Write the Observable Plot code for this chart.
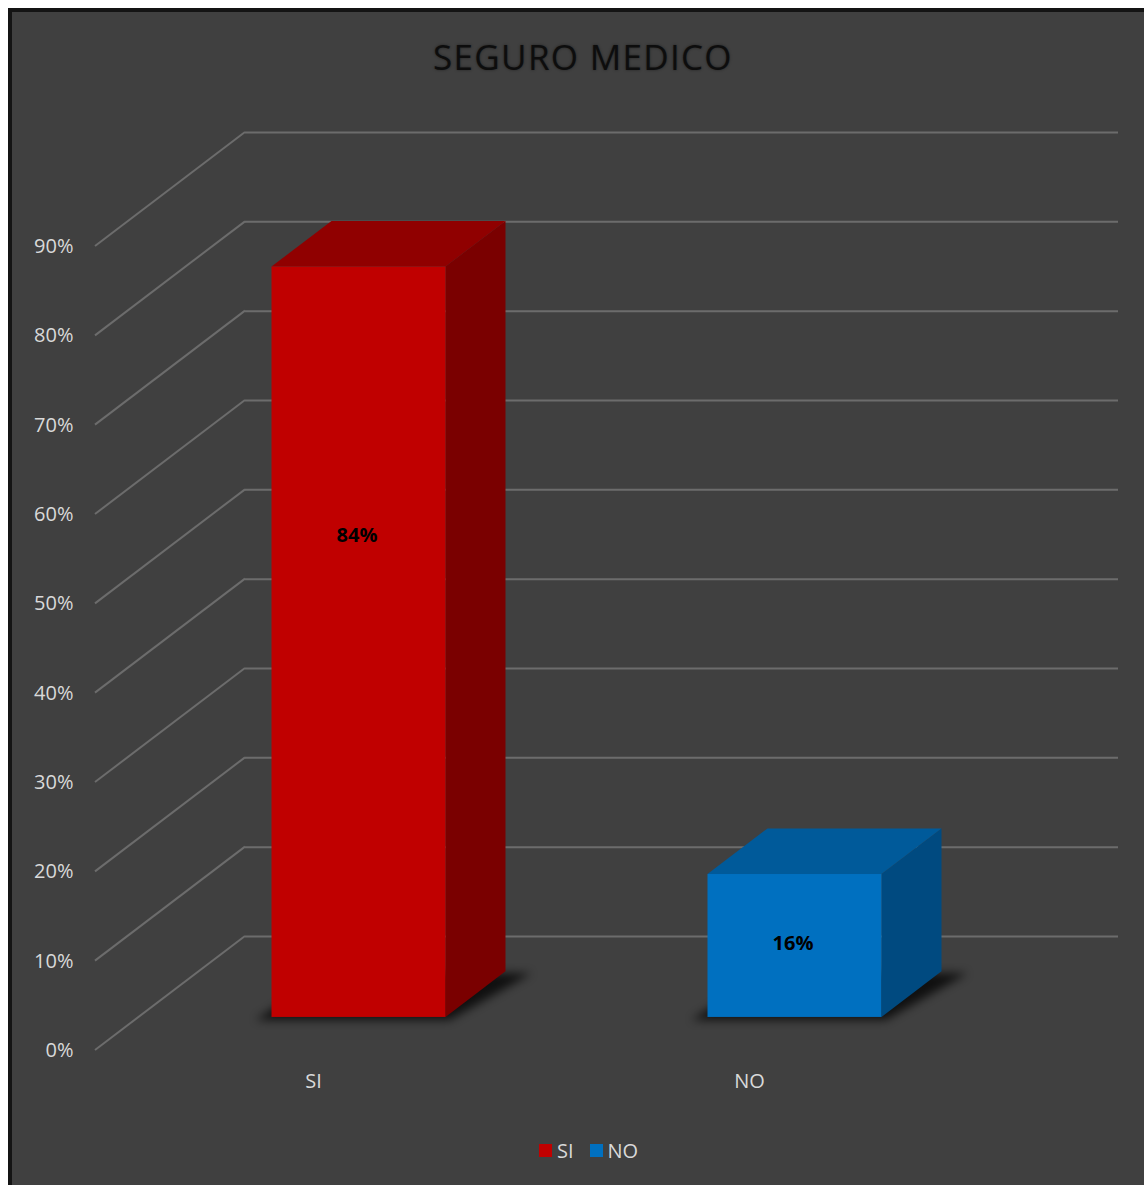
<!DOCTYPE html>
<html><head><meta charset="utf-8">
<script src="https://cdn.jsdelivr.net/npm/d3@7"></script>
<script src="https://cdn.jsdelivr.net/npm/@observablehq/plot@0.6"></script>
<style>
html,body{margin:0;padding:0;background:#fff;}
#frame{position:absolute;left:8px;top:8px;width:1136px;height:1177px;box-sizing:border-box;border-top:4px solid #141414;border-left:4px solid #141414;background:#404040;overflow:hidden;font-family:"Open Sans",sans-serif;}
#title{position:absolute;left:0;top:25px;width:1142px;height:40px;line-height:40px;text-align:center;font-size:35px;color:#0d0d0d;letter-spacing:1.3px;text-shadow:0 0 3px rgba(0,0,0,0.45);}
#chart{position:absolute;left:0;top:88px;}
#legend{position:absolute;left:527px;top:1126px;height:24px;display:flex;align-items:center;font-size:20px;color:#d9d9d9;}
#legend .sw{display:inline-block;width:13px;height:13px;margin-right:5px;}
#legend .item{display:flex;align-items:center;margin-right:16px;}
</style></head>
<body>
<div id="frame">
  <div id="title"></div>
  <div id="chart"></div>
  <div id="legend"></div>
</div>
<script>
// ---- data ----
const title = "SEGURO MEDICO";
const categories = ["SI", "NO"];
const values = [0.84, 0.16];
const yTicks = [0, 0.1, 0.2, 0.3, 0.4, 0.5, 0.6, 0.7, 0.8, 0.9];

// ---- style ----
const frontColors = ["#C00000", "#0070C0"];
const topColors = ["#900000", "#005A9A"];
const sideColors = ["#7A0000", "#004A80"];
const gridColor = "#6c6c6c";
const DX = 150, DY = -114;      // depth vector of the 3D floor
const D0 = 0.29, D1 = 0.69;     // bar front / back depth fraction
const SHIFT = 2;                // small horizontal nudge of the bars
const LABEL_POS = 0.672;        // relative height of the data label on the bar

const data = categories.map((c, i) => ({cat: c, value: values[i], i}));

document.getElementById("title").textContent = title;

const walls = (index, scales, vals, dims) => {
  const {y} = scales;
  const g = d3.create("svg:g");
  const x0 = dims.marginLeft;
  for (const v of yTicks) {
    g.append("line")
      .attr("x1", x0).attr("y1", y(v))
      .attr("x2", x0 + DX).attr("y2", y(v) + DY)
      .attr("stroke", gridColor).attr("stroke-width", 2);
  }
  return g.node();
};

const blocks = (index, scales, vals, dims) => {
  const {x, y} = scales;
  const g = d3.create("svg:g");
  const defs = g.append("defs");
  defs.append("filter").attr("id", "shblur").attr("x", "-50%").attr("y", "-50%").attr("width", "200%").attr("height", "200%")
    .append("feGaussianBlur").attr("stdDeviation", 5);
  const bw = x.bandwidth();
  const fx = DX * D0 + SHIFT, fy = DY * D0, bx = DX * D1 + SHIFT, by = DY * D1;
  for (const d of data) {
    const xl = x(d.cat), xr = xl + bw, yt = y(d.value), yb = y(0);
    const sh = [
      [xl + fx - 16, yb + fy + 3], [xr + fx + 4, yb + fy + 3],
      [xr + bx + 26, yb + by + 2], [xl + bx, yb + by]
    ];
    g.append("path").attr("d", "M" + sh.join("L") + "Z")
      .attr("fill", "#000").attr("opacity", 0.75).attr("filter", "url(#shblur)");
    const side = [[xr + fx, yt + fy], [xr + bx, yt + by], [xr + bx, yb + by], [xr + fx, yb + fy]];
    g.append("path").attr("d", "M" + side.join("L") + "Z").attr("fill", sideColors[d.i]);
    const top = [[xl + fx, yt + fy], [xr + fx, yt + fy], [xr + bx, yt + by], [xl + bx, yt + by]];
    g.append("path").attr("d", "M" + top.join("L") + "Z").attr("fill", topColors[d.i]);
  }
  return g.node();
};

const chart = Plot.plot({
  width: 1132,
  height: 1010,
  marginLeft: 83,
  marginRight: 176,
  marginTop: 146,
  marginBottom: 60,
  style: {background: "transparent", color: "#d9d9d9", fontFamily: "'Open Sans', sans-serif", fontSize: "20px", overflow: "visible"},
  x: {type: "band", domain: categories, paddingInner: 0.6, paddingOuter: 0.3},
  y: {domain: [0, 0.9]},
  marks: [
    walls,
    Plot.ruleY(yTicks, {y: d => d, dx: DX, dy: DY, stroke: gridColor, strokeWidth: 2}),
    blocks,
    Plot.barY(data, {x: "cat", y: "value", fill: d => frontColors[d.i], dx: DX * D0 + SHIFT, dy: DY * D0}),
    Plot.text(data, {x: "cat", y: d => d.value * LABEL_POS, text: d => d3.format(".0%")(d.value),
      dx: DX * D0, dy: -11, fill: "#000", fontWeight: "bold", fontSize: 20}),
    Plot.axisY(yTicks, {tickFormat: d3.format(".0%"), tickSize: 0, tickPadding: 22, fontSize: 20, label: null}),
    Plot.axisX(categories, {tickSize: 0, tickPadding: 23, fontSize: 20, label: null})
  ]
});
document.getElementById("chart").appendChild(chart);

const lg = document.getElementById("legend");
categories.forEach((c, i) => {
  const it = document.createElement("span");
  it.className = "item";
  it.innerHTML = `<span class="sw" style="background:${frontColors[i]}"></span>${c}`;
  lg.appendChild(it);
});
</script>
</body></html>
